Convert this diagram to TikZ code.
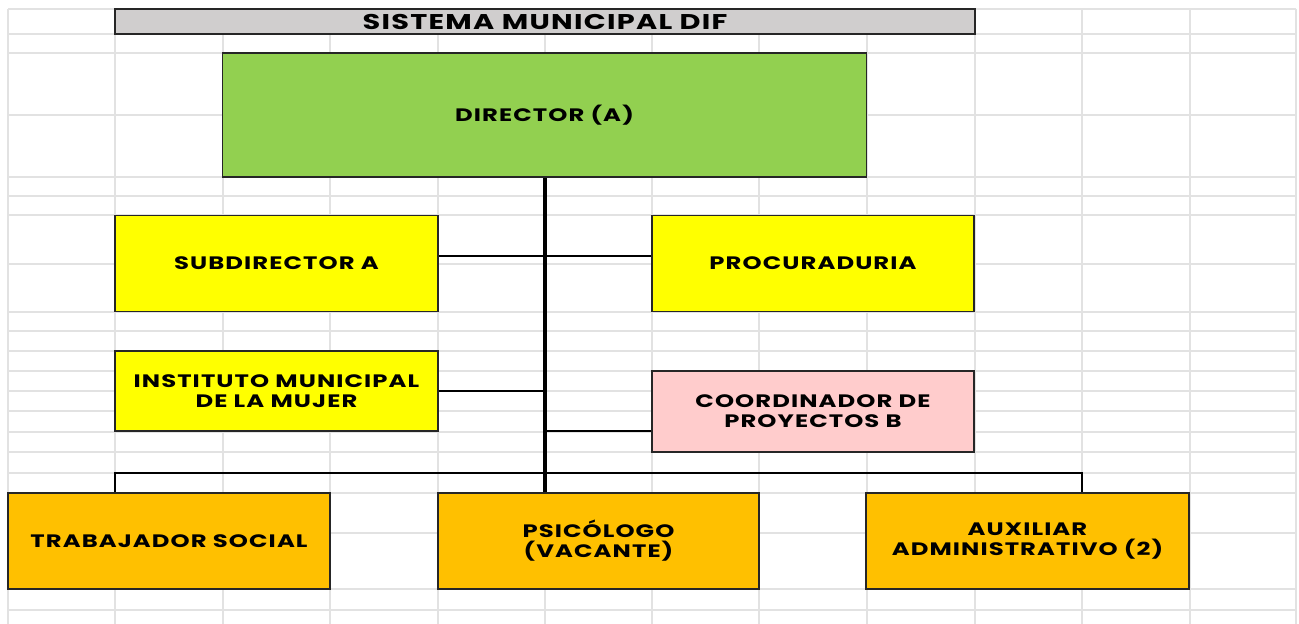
\documentclass[tikz,border=0pt]{standalone}
\usepackage{fontspec}
\setmainfont{Poppins}[LetterSpace=6, FakeStretch=1.35]
\usetikzlibrary{calc}
\definecolor{gridc}{HTML}{E2E2E2}
\definecolor{titlec}{HTML}{D0CECE}
\definecolor{greenc}{HTML}{92D050}
\definecolor{yellowc}{HTML}{FFFF00}
\definecolor{pinkc}{HTML}{FFCCCC}
\definecolor{orangec}{HTML}{FFC000}
\tikzset{
  box/.style={draw=black!85, line width=1.3pt, inner sep=0pt, align=center,
    font=\fontsize{13.5}{15}\selectfont\bfseries},
  gridline/.style={draw=gridc, line width=1.4pt},
  trunk/.style={line width=3pt, draw=black},
  link/.style={line width=1.6pt, draw=black},
  bar/.style={line width=2.2pt, draw=black},
}
\begin{document}
\begin{tikzpicture}[x=0.75pt, y=-0.75pt]
\fill[white] (0,0) rectangle (1299,624);
\useasboundingbox (0,0) rectangle (1299,624);
% spreadsheet grid
\foreach \gx in {8,115,223,330,438,545,652,759,867,975,1082,1190,1296}
  \draw[gridline] (\gx,9) -- (\gx,624);
\foreach \gy in {9,34,53,115,177,196,215,264,312,331,351,371,391,411,432,452,473,493,533,589,610}
  \draw[gridline] (8,\gy) -- (1296,\gy);
% nodes
\node[box, fill=titlec, minimum width=645pt, minimum height=18.75pt,
  font=\fontsize{16}{17}\selectfont\bfseries] (title) at (545,21.5) {SISTEMA MUNICIPAL DIF};
\node[box, fill=greenc, minimum width=483pt, minimum height=93pt] (dir) at (544.5,115) {DIRECTOR (A)};
\node[box, fill=yellowc, minimum width=242.25pt, minimum height=72pt] (sub) at (276.5,263.5) {SUBDIRECTOR A};
\node[box, fill=yellowc, minimum width=241.5pt, minimum height=72pt] (proc) at (813,263.5) {PROCURADURIA};
\node[box, fill=yellowc, minimum width=242.25pt, minimum height=60pt] (inst) at (276.5,391) {INSTITUTO MUNICIPAL\\DE LA MUJER};
\node[box, fill=pinkc, minimum width=241.5pt, minimum height=60.75pt] (coord) at (813,411.5) {COORDINADOR DE\\PROYECTOS B};
\node[box, fill=orangec, minimum width=241.5pt, minimum height=72pt] (trab) at (169,541) {TRABAJADOR SOCIAL};
\node[box, fill=orangec, minimum width=240.75pt, minimum height=72pt] (psi) at (598.5,541) {PSICÓLOGO\\(VACANTE)};
\node[box, fill=orangec, minimum width=242.25pt, minimum height=72pt] (aux) at (1027.5,541) {AUXILIAR\\ADMINISTRATIVO (2)};
% connectors
\coordinate (bl) at (115,473);
\coordinate (br) at (1082,473);
\draw[link] (sub.east |- 0,256) -- (proc.west |- 0,256);
\draw[link] (inst.east) -- (inst.east -| dir.south);
\draw[link] (coord.west |- 0,431) -- (dir.south |- 0,431);
\draw[bar] (trab.north -| bl) -- (bl) -- (br) -- (aux.north -| br);
\draw[trunk] (dir.south) -- (psi.north -| dir.south);
\end{tikzpicture}
\end{document}
